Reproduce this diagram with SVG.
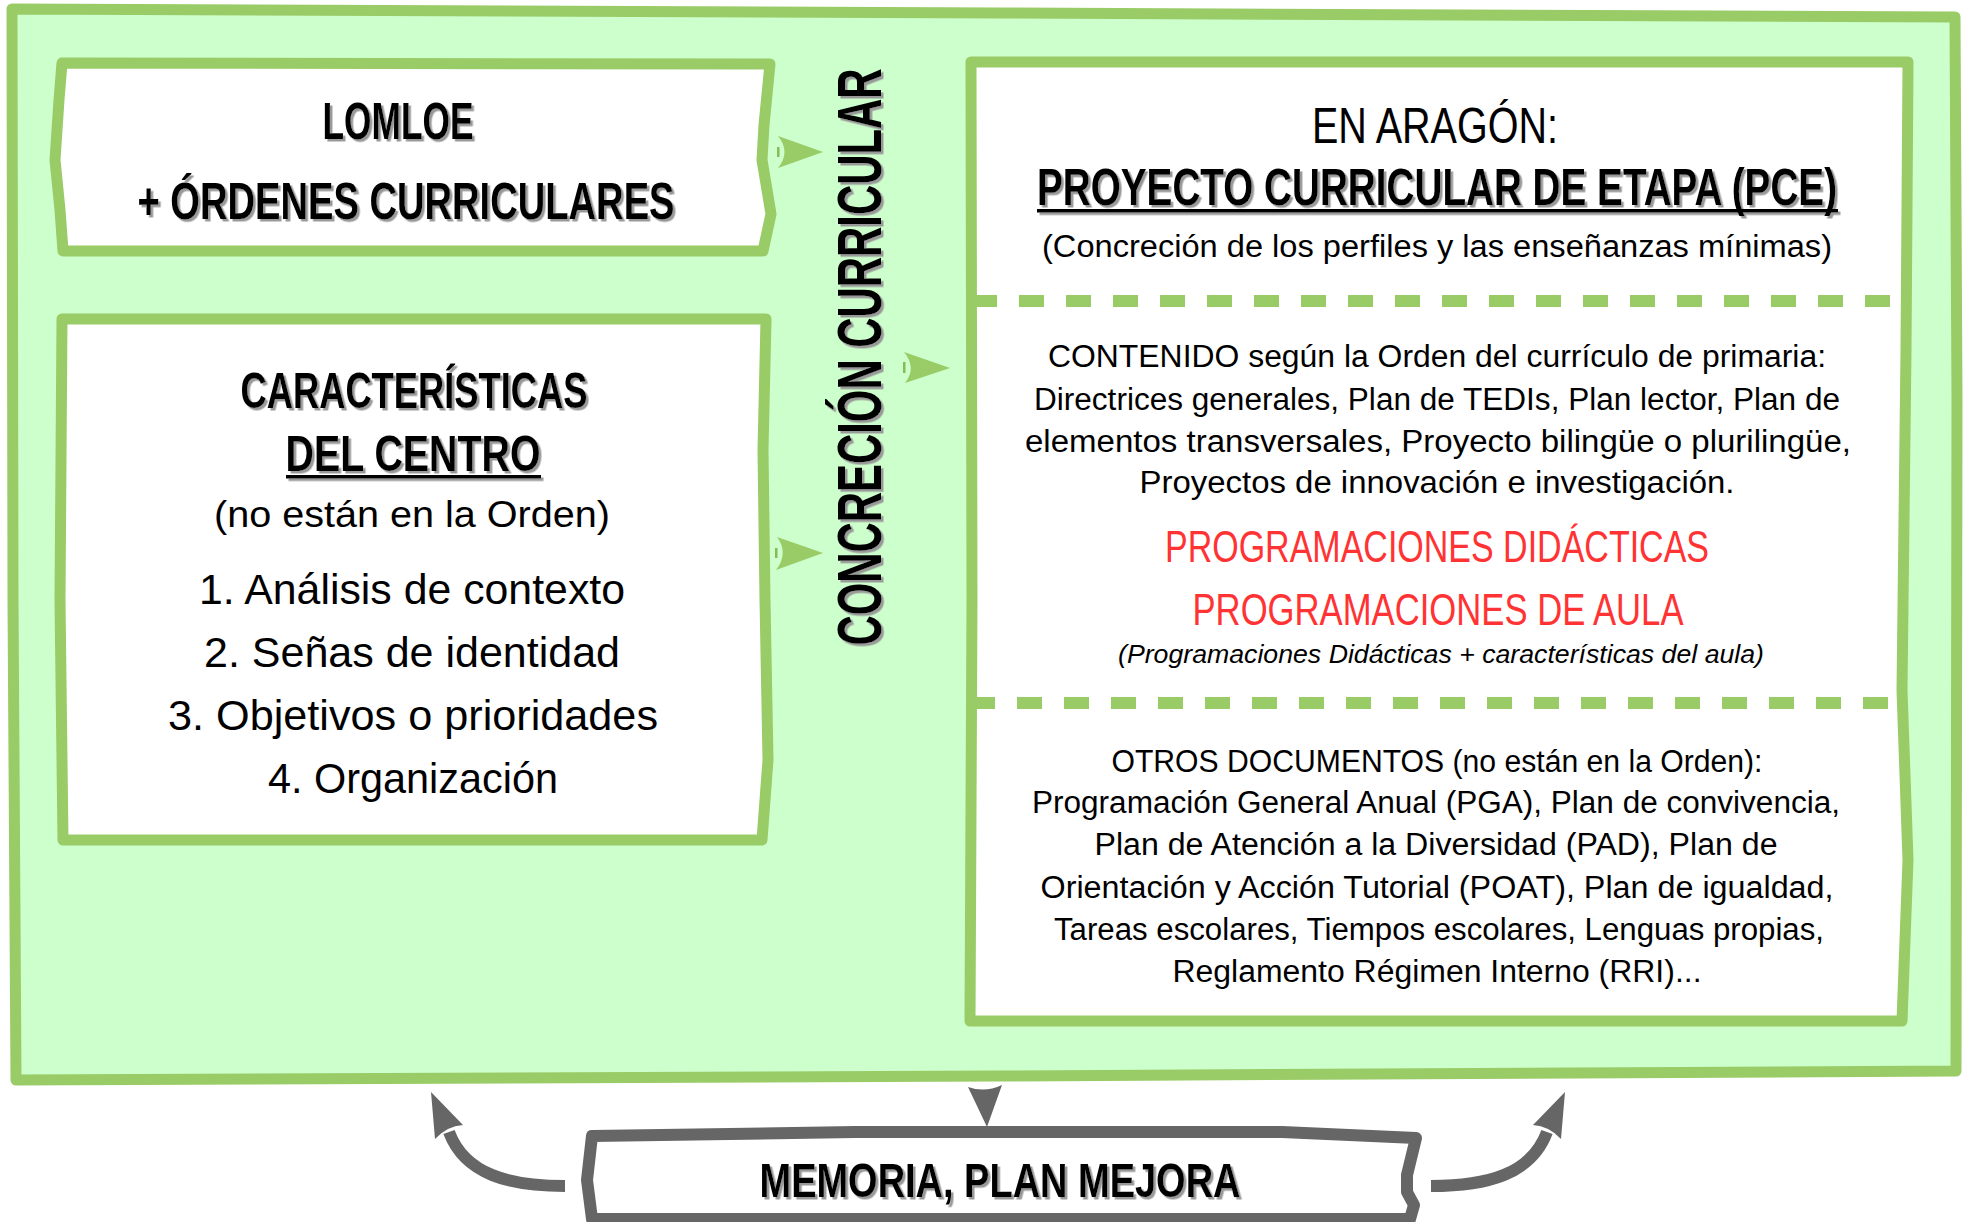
<svg xmlns="http://www.w3.org/2000/svg" width="1966" height="1222" viewBox="0 0 1966 1222">
<style>
.gbox{fill:#FFFFFF;stroke:#99CC66;stroke-width:11;stroke-linejoin:round}
.outer{fill:#CCFFCC;stroke:#99CC66;stroke-width:11;stroke-linejoin:round}
.gray{fill:#FFFFFF;stroke:#666666;stroke-width:12;stroke-linejoin:round}
.t{font-family:"Liberation Sans",Arial,sans-serif;text-anchor:middle;fill:#000}
.h{font-weight:bold}
.red{fill:#FF3333}
.dash{stroke:#99CC66;stroke-width:12;stroke-dasharray:25 22;fill:none}
.garrow{fill:#99CC66}
.stub{fill:#88BB55}
.shaft{fill:none;stroke:#666666;stroke-width:12}
.head{fill:#666666}
</style>
<defs>
<filter id="sh" filterUnits="userSpaceOnUse" x="0" y="0" width="1966" height="1222">
<feDropShadow dx="2.5" dy="2.5" stdDeviation="0.5" flood-color="#999999" flood-opacity="1"/>
</filter>
</defs>
<rect width="1966" height="1222" fill="#FFFFFF"/>

<g id="container">
<path class="outer" d="M12,9 L1000,13 L1955,17 L1957,400 L1956,1071 L1000,1076 L16,1080 L13,600 Z"/>
</g>

<g id="lomloe">
<path class="gbox" d="M62,63 L770,64 L764,125 L762,160 L771,214 L763,251 L63,251 L60,210 L55,160 L59,100 Z"/>
<g filter="url(#sh)">
<text class="t h" x="398" y="139" font-size="52" textLength="151" lengthAdjust="spacingAndGlyphs">LOMLOE</text>
<text class="t h" x="406" y="219" font-size="52" textLength="537" lengthAdjust="spacingAndGlyphs">+ ÓRDENES CURRICULARES</text>
</g>
</g>

<g id="caracteristicas">
<path class="gbox" d="M62,319 L766,319 L763,450 L765,600 L768,760 L762,840 L63,840 L60,600 Z"/>
<g filter="url(#sh)">
<text class="t h" x="414" y="408" font-size="50" textLength="347" lengthAdjust="spacingAndGlyphs">CARACTERÍSTICAS</text>
<text class="t h" x="413" y="471" font-size="50" textLength="255" lengthAdjust="spacingAndGlyphs">DEL CENTRO</text>
<rect x="286" y="475" width="255" height="3.5" fill="#000"/>
</g>
<text class="t" x="412" y="527" font-size="36" textLength="396" lengthAdjust="spacingAndGlyphs">(no están en la Orden)</text>
<text class="t" x="412" y="604" font-size="43" textLength="426" lengthAdjust="spacingAndGlyphs">1. Análisis de contexto</text>
<text class="t" x="412" y="667" font-size="43" textLength="416" lengthAdjust="spacingAndGlyphs">2. Señas de identidad</text>
<text class="t" x="413" y="730" font-size="43" textLength="490" lengthAdjust="spacingAndGlyphs">3. Objetivos o prioridades</text>
<text class="t" x="413" y="793" font-size="43" textLength="290" lengthAdjust="spacingAndGlyphs">4. Organización</text>
</g>

<g id="concrecion-label" filter="url(#sh)">
<text class="t h" transform="translate(881,357) rotate(-90) scale(1,1.45)" x="0" y="0" font-size="44" textLength="577" lengthAdjust="spacingAndGlyphs">CONCRECIÓN CURRICULAR</text>
</g>

<g id="pce">
<path class="gbox" d="M971,62 L1908,62 L1906,350 L1902,690 L1908,860 L1902,1021 L970,1021 L972,600 Z"/>
<line class="dash" x1="972" y1="301" x2="1896" y2="301"/>
<line class="dash" x1="970" y1="703" x2="1896" y2="703"/>
<text class="t" x="1435" y="143" font-size="50" textLength="246" lengthAdjust="spacingAndGlyphs">EN ARAGÓN:</text>
<g filter="url(#sh)">
<text class="t h" transform="translate(1437,205) scale(1,1.4)" x="0" y="0" font-size="37" textLength="800" lengthAdjust="spacingAndGlyphs">PROYECTO CURRICULAR DE ETAPA (PCE)</text>
<rect x="1037" y="209" width="801" height="3.5" fill="#000"/>
</g>
<text class="t" x="1437" y="257" font-size="31" textLength="790" lengthAdjust="spacingAndGlyphs">(Concreción de los perfiles y las enseñanzas mínimas)</text>
<text class="t" x="1437" y="367" font-size="31" textLength="778" lengthAdjust="spacingAndGlyphs">CONTENIDO según la Orden del currículo de primaria:</text>
<text class="t" x="1437" y="410" font-size="31" textLength="806" lengthAdjust="spacingAndGlyphs">Directrices generales, Plan de TEDIs, Plan lector, Plan de</text>
<text class="t" x="1438" y="452" font-size="31" textLength="826" lengthAdjust="spacingAndGlyphs">elementos transversales, Proyecto bilingüe o plurilingüe,</text>
<text class="t" x="1437" y="493" font-size="31" textLength="595" lengthAdjust="spacingAndGlyphs">Proyectos de innovación e investigación.</text>
<text class="t red" x="1437" y="562" font-size="44" textLength="544" lengthAdjust="spacingAndGlyphs">PROGRAMACIONES DIDÁCTICAS</text>
<text class="t red" x="1438" y="625" font-size="44" textLength="491" lengthAdjust="spacingAndGlyphs">PROGRAMACIONES DE AULA</text>
<text class="t" x="1441" y="663" font-size="25" font-style="italic" textLength="646" lengthAdjust="spacingAndGlyphs">(Programaciones Didácticas + características del aula)</text>
<text class="t" x="1437" y="772" font-size="31" textLength="651" lengthAdjust="spacingAndGlyphs">OTROS DOCUMENTOS (no están en la Orden):</text>
<text class="t" x="1436" y="813" font-size="31" textLength="808" lengthAdjust="spacingAndGlyphs">Programación General Anual (PGA), Plan de convivencia,</text>
<text class="t" x="1436" y="855" font-size="31" textLength="683" lengthAdjust="spacingAndGlyphs">Plan de Atención a la Diversidad (PAD), Plan de</text>
<text class="t" x="1437" y="898" font-size="31" textLength="793" lengthAdjust="spacingAndGlyphs">Orientación y Acción Tutorial (POAT), Plan de igualdad,</text>
<text class="t" x="1439" y="940" font-size="31" textLength="770" lengthAdjust="spacingAndGlyphs">Tareas escolares, Tiempos escolares, Lenguas propias,</text>
<text class="t" x="1437" y="982" font-size="31" textLength="529" lengthAdjust="spacingAndGlyphs">Reglamento Régimen Interno (RRI)...</text>
</g>

<g id="memoria">
<path class="gray" d="M592,1136 L855,1132 L1282,1132 L1416,1138 L1407,1175 L1407,1192 L1414,1205 L1410,1219 L592,1219 L587,1180 Z"/>
<g filter="url(#sh)">
<text class="t h" x="1000" y="1197" font-size="49" textLength="481" lengthAdjust="spacingAndGlyphs">MEMORIA, PLAN MEJORA</text>
</g>
</g>

<g id="connectors">
<path class="garrow" d="M778,136 L823,152 L778,168 Q791,152 778,136 Z"/>
<rect class="stub" x="777" y="147" width="2.5" height="10"/>
<path class="garrow" d="M904,352 L950,368 L905,383 Q917,368 904,352 Z"/>
<rect class="stub" x="903" y="362" width="2.5" height="11"/>
<path class="garrow" d="M777,537 L823,553 L776,570 Q789,553 777,537 Z"/>
<rect class="stub" x="775" y="548" width="2.5" height="10"/>
<path class="head" d="M968,1087 Q985,1093 1002,1085 L987,1127 Z"/>
<path class="shaft" d="M565,1186 C510,1186 465,1175 449,1132"/>
<path class="head" d="M431,1092 L463,1125 Q447,1126 435,1139 Z"/>
<path class="shaft" d="M1431,1186 C1486,1186 1531,1175 1547,1132"/>
<path class="head" d="M1565,1092 L1533,1125 Q1549,1126 1561,1139 Z"/>
</g>
</svg>
